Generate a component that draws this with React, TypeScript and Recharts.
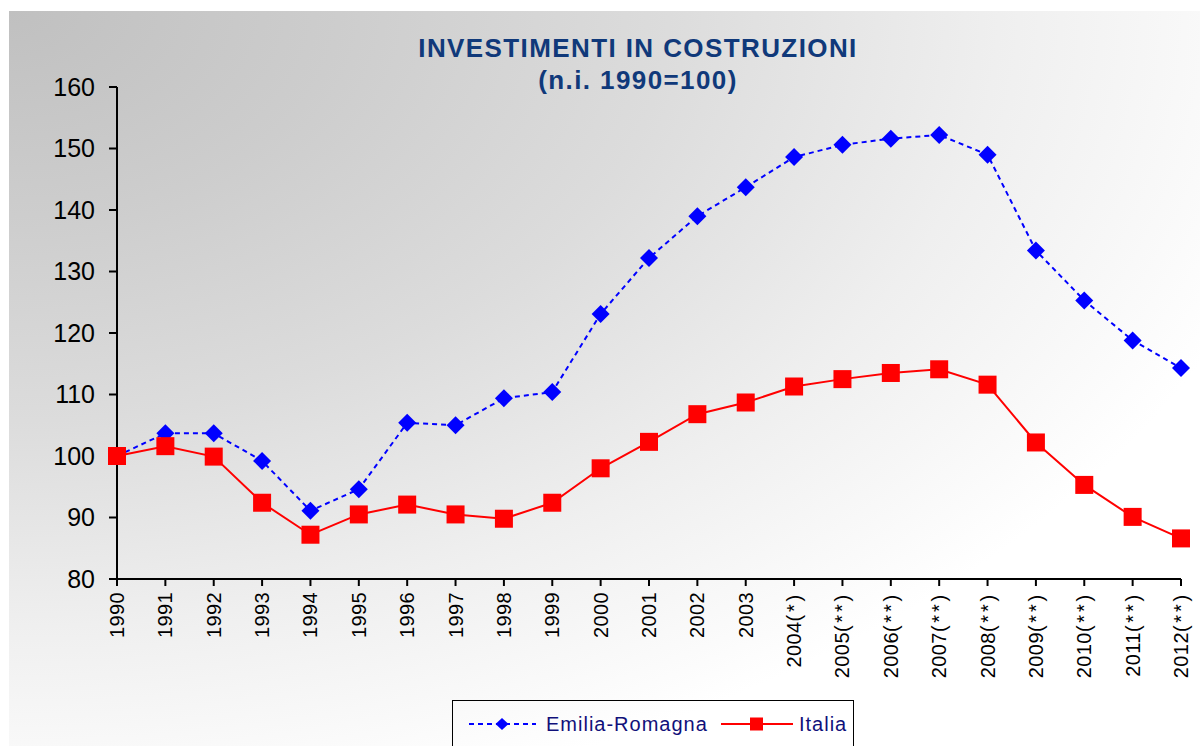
import { Legend, Line, LineChart, XAxis, YAxis } from "recharts";

const years = [
  "1990", "1991", "1992", "1993", "1994", "1995", "1996", "1997", "1998", "1999",
  "2000", "2001", "2002", "2003", "2004(*)", "2005(**)", "2006(**)", "2007(**)",
  "2008(**)", "2009(**)", "2010(**)", "2011(**)", "2012(**)",
];

const emiliaRomagna = [
  100, 103.7, 103.7, 99.2, 91.1, 94.6, 105.4, 105.0, 109.4, 110.4,
  123.1, 132.2, 139.0, 143.7, 148.6, 150.6, 151.6, 152.2, 149.0, 133.4,
  125.3, 118.8, 114.3,
];

const italia = [
  100, 101.6, 99.9, 92.4, 87.2, 90.5, 92.1, 90.5, 89.8, 92.4,
  98.0, 102.3, 106.8, 108.7, 111.3, 112.5, 113.5, 114.1, 111.6, 102.2,
  95.3, 90.1, 86.6,
];

const yTicks = [80, 90, 100, 110, 120, 130, 140, 150, 160];

const data = years.map((year, i) => ({
  year,
  er: emiliaRomagna[i],
  it: italia[i],
}));

const W = 1191;
const H = 735;
const FONT = "'Liberation Sans', Arial, sans-serif";

const Diamond = (props: any) => {
  const { cx, cy } = props;
  if (cx == null || cy == null) return null;
  const r = 9;
  return (
    <path
      d={`M${cx},${cy - r} L${cx + r},${cy} L${cx},${cy + r} L${cx - r},${cy} Z`}
      fill="#0000ff"
    />
  );
};

const Square = (props: any) => {
  const { cx, cy } = props;
  if (cx == null || cy == null) return null;
  const s = 9;
  return <rect x={cx - s} y={cy - s} width={s * 2} height={s * 2} fill="#ff0000" />;
};

const YearTick = (props: any) => {
  const { x, y, payload } = props;
  const label: string = payload.value;
  const yr = label.slice(0, 4);
  const suffix = label.slice(4);
  return (
    <text
      x={x}
      y={y}
      transform={`rotate(-90 ${x} ${y})`}
      textAnchor="end"
      dominantBaseline="central"
      fontSize={20}
      fill="#000"
      fontFamily={FONT}
      letterSpacing={0.4}
    >
      {yr}
      {suffix ? <tspan letterSpacing={2.8}>{suffix}</tspan> : null}
    </text>
  );
};

const LegendBox = () => (
  <div
    style={{
      width: 402,
      height: 60,
      border: "1.5px solid #000",
      boxSizing: "border-box",
      position: "relative",
      fontFamily: FONT,
    }}
  >
    <svg width={400} height={58} style={{ position: "absolute", left: 0, top: 0 }}>
      <line x1={16} y1={23} x2={83} y2={23} stroke="#0000ff" strokeWidth={2} strokeDasharray="5 4" />
      <path d="M49,17 L55.5,23 L49,29 L42.5,23 Z" fill="#0000ff" />
      <text x={93} y={23} dominantBaseline="central" fontSize={20} fill="#10107a" letterSpacing={1}>
        Emilia-Romagna
      </text>
      <line x1={268} y1={23} x2={340} y2={23} stroke="#ff0000" strokeWidth={2} />
      <rect x={297} y={16.5} width={13} height={13} fill="#ff0000" />
      <text x={346} y={23} dominantBaseline="central" fontSize={20} fill="#10107a" letterSpacing={1}>
        Italia
      </text>
    </svg>
  </div>
);

export default function App() {
  return (
    <div
      style={{
        position: "absolute",
        left: 9,
        top: 11,
        width: W,
        height: H,
        overflow: "hidden",
        background:
          "radial-gradient(ellipse 1320px 820px at 0px 0px, #c0c0c0 0%, #cdcdcd 25%, #dcdcdc 50%, #efefef 75%, #ffffff 100%)",
        fontFamily: FONT,
      }}
    >
      <div
        style={{
          position: "absolute",
          left: 629,
          top: 21,
          transform: "translateX(-50%)",
          whiteSpace: "nowrap",
          textAlign: "center",
          color: "#10397a",
          fontWeight: "bold",
          fontSize: 26,
          lineHeight: "32px",
          letterSpacing: 1.4,
          zIndex: 2,
        }}
      >
        INVESTIMENTI IN COSTRUZIONI
        <br />
        (n.i. 1990=100)
      </div>
      <LineChart
        width={W}
        height={H}
        data={data}
        margin={{ top: 76, right: 19, left: 0, bottom: 67 }}
      >
        <XAxis
          dataKey="year"
          interval={0}
          height={100}
          tick={<YearTick />}
          tickSize={7}
          tickMargin={6}
          axisLine={{ stroke: "#000", strokeWidth: 2 }}
          tickLine={{ stroke: "#000", strokeWidth: 2 }}
        />
        <YAxis
          domain={[80, 160]}
          ticks={yTicks}
          width={108}
          tickSize={8}
          tickMargin={14}
          axisLine={{ stroke: "#000", strokeWidth: 2 }}
          tickLine={{ stroke: "#000", strokeWidth: 2 }}
          tick={{ fill: "#000", fontSize: 25, fontFamily: FONT }}
        />
        <Legend
          layout="vertical"
          align="center"
          verticalAlign="middle"
          wrapperStyle={{ left: 443, top: 689, width: 402 }}
          content={<LegendBox />}
        />
        <Line
          dataKey="er"
          name="Emilia-Romagna"
          stroke="#0000ff"
          strokeWidth={2}
          strokeDasharray="5 4"
          dot={<Diamond />}
          activeDot={false}
          isAnimationActive={false}
        />
        <Line
          dataKey="it"
          name="Italia"
          stroke="#ff0000"
          strokeWidth={2}
          dot={<Square />}
          activeDot={false}
          isAnimationActive={false}
        />
      </LineChart>
    </div>
  );
}
